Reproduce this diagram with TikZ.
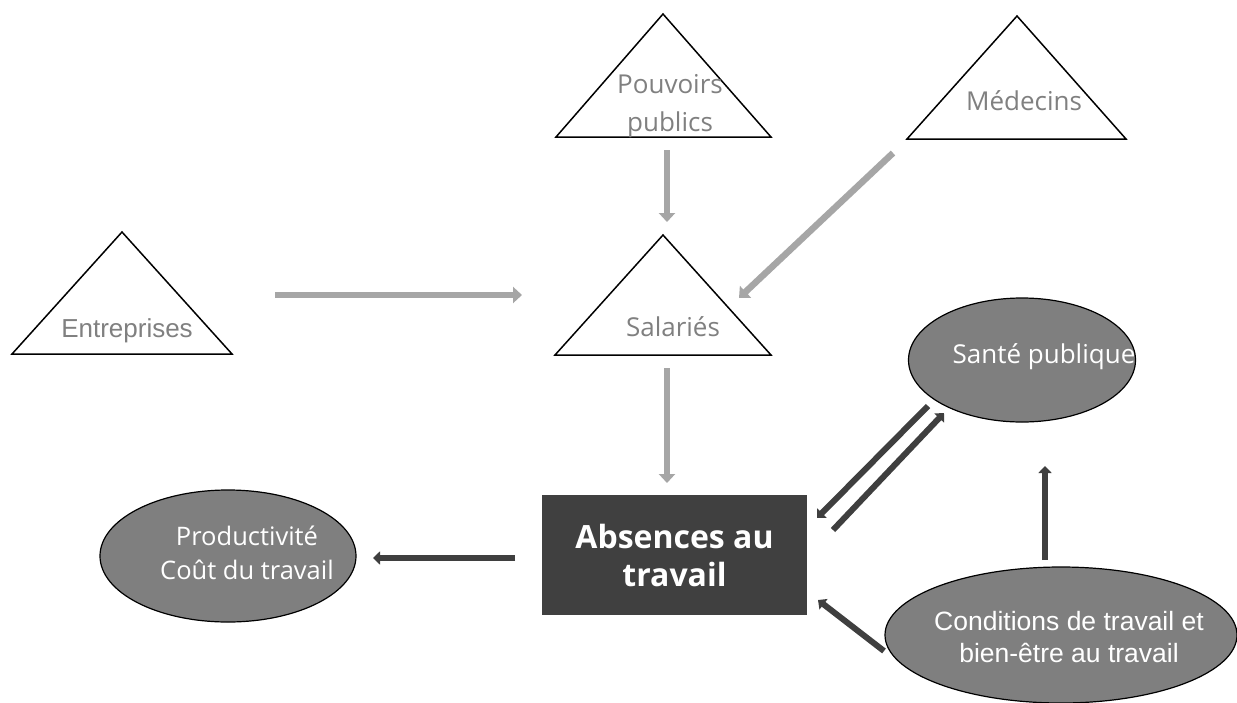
\documentclass[tikz,border=0pt]{standalone}
\usepackage{fontspec}
\setmainfont{Open Sans}
\newfontfamily\arialf{Liberation Sans}
\usetikzlibrary{arrows.meta,shapes.geometric}
\definecolor{txtgray}{HTML}{808080}
\definecolor{fillgray}{HTML}{7F7F7F}
\definecolor{darkbox}{HTML}{404040}
\definecolor{arrgray}{HTML}{A6A6A6}
\definecolor{arrdark}{HTML}{3F3F3F}
\begin{document}
\begin{tikzpicture}[x=1pt,y=-1pt,
  tri/.style={draw=black, line width=1.5pt, line join=miter, fill=white},
  trilabel/.style={text=txtgray, inner sep=0pt, align=center, font=\fontsize{26pt}{38pt}\selectfont},
  ell/.style={ellipse, draw=black, line width=1.2pt, fill=fillgray, inner sep=0pt},
  elllabel/.style={text=white, inner sep=0pt, align=center},
  absbox/.style={draw=none, fill=darkbox, text=white, inner sep=0pt, align=center,
    minimum width=265pt, minimum height=120pt, font=\bfseries\fontsize{32pt}{38pt}\selectfont},
  garrow/.style={draw=arrgray, line width=6.5pt, -{Triangle[width=16pt,length=9pt]}},
  darrow/.style={draw=arrdark, line width=6pt, -{Triangle[width=13pt,length=7pt]}},
]
\useasboundingbox (0,0) rectangle (1237,702);
\fill[white] (0,0) rectangle (1237,702);

% triangles
\draw[tri] (556,137) -- (663,14) -- (771,137) -- cycle;
\draw[tri] (907,139) -- (1017,16) -- (1126,139) -- cycle;
\draw[tri] (12,354) -- (122,232) -- (232,354) -- cycle;
\draw[tri] (555,355) -- (663,235) -- (771,355) -- cycle;

\node[trilabel] (pouv) at (670,106) {Pouvoirs\\publics};
\node[trilabel, anchor=base] (med) at (1024,110) {Médecins};
\node[trilabel, anchor=base, font=\arialf\fontsize{26pt}{30pt}\selectfont] (entr) at (127,337) {Entreprises};
\node[trilabel, anchor=base, font=\fontsize{26pt}{30pt}\selectfont] (sal) at (673,336) {Salariés};

% ellipses
\node[ell, minimum width=227pt, minimum height=124pt] (sante) at (1022,360) {};
\node[elllabel, anchor=base, font=\fontsize{26pt}{30pt}\selectfont] (sante-t) at (1044,363) {Santé publique};
\node[ell, minimum width=256pt, minimum height=132pt] (prod) at (228,556) {};
\node[elllabel, font=\fontsize{25.5pt}{34pt}\selectfont] (prod-t) at (247,553) {Productivité\\Coût du travail};
\node[ell, minimum width=352pt, minimum height=136pt] (cond) at (1061,635) {};
\node[elllabel, font=\arialf\fontsize{26.5pt}{31.5pt}\selectfont] (cond-t) at (1069,637) {Conditions de travail et\\bien-être au travail};

% box
\node[absbox] (abs) at (674.5,555) {Absences au\\travail};

% arrow end points
\coordinate (pouv-s) at (667,150);
\coordinate (sal-n) at (667,222);
\coordinate (med-s) at (893,153);
\coordinate (sal-ne) at (739,298);
\coordinate (entr-e) at (275,295);
\coordinate (sal-w) at (522,295);
\coordinate (sal-s) at (667,368);
\coordinate (abs-n) at (667,483);
\coordinate (abs-w) at (515,558);
\coordinate (prod-e) at (373,558);
\coordinate (sante-sw1) at (928,406);
\coordinate (abs-ne1) at (817,518);
\coordinate (abs-ne2) at (833,530);
\coordinate (sante-sw2) at (944,413);
\coordinate (cond-nw) at (884,651);
\coordinate (abs-se) at (818,600);
\coordinate (cond-n) at (1045,560);
\coordinate (sante-s) at (1045,466);

% gray arrows
\draw[garrow] (pouv-s) -- (sal-n);
\draw[garrow] (med-s) -- (sal-ne);
\draw[garrow] (entr-e) -- (sal-w);
\draw[garrow] (sal-s) -- (abs-n);

% dark arrows
\draw[darrow] (abs-w) -- (prod-e);
\draw[darrow] (sante-sw1) -- (abs-ne1);
\draw[darrow] (abs-ne2) -- (sante-sw2);
\draw[darrow] (cond-nw) -- (abs-se);
\draw[darrow] (cond-n) -- (sante-s);
\end{tikzpicture}
\end{document}
